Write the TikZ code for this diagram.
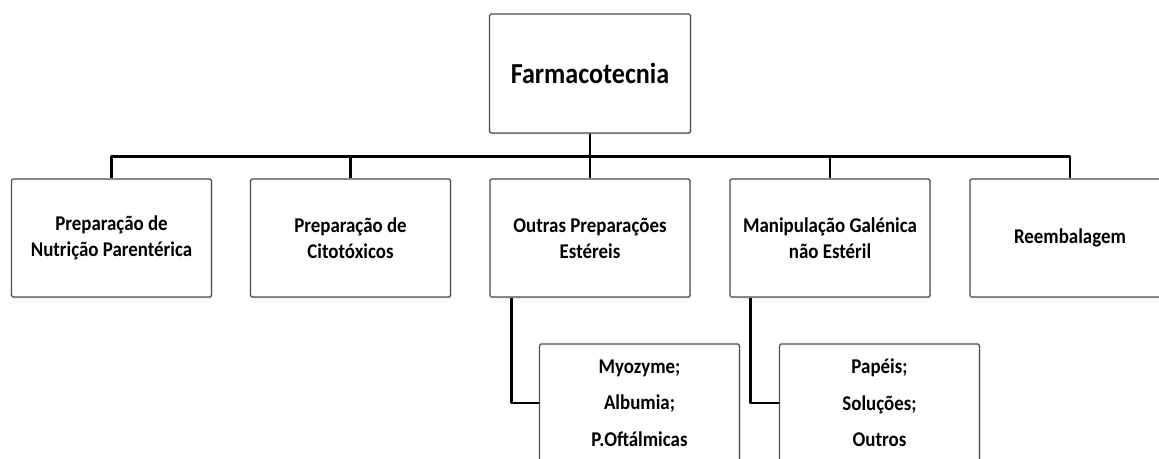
\documentclass[tikz,border=0pt]{standalone}
\usepackage{fontspec}
\setmainfont{Carlito}[FakeStretch=0.9]
\usetikzlibrary{shadows,calc}

\begin{document}
\begin{tikzpicture}[
    x=1pt, y=-1pt,
    obox/.style={rectangle, draw=black!70, line width=1.2pt, rounded corners=1.5pt, fill=white, minimum width=200pt, minimum height=118pt, inner sep=0pt, align=center, font=\bfseries\fontsize{21}{26}\selectfont, drop shadow={opacity=0.2, shadow xshift=1pt, shadow yshift=-1.5pt}},
    subbox/.style={obox, font=\bfseries\fontsize{21}{36.5}\selectfont},
    link/.style={line width=2.6pt, line join=round}
]
\useasboundingbox (0,0) rectangle (1159,458);

\node[obox, minimum width=201pt, minimum height=119pt, font=\bfseries\fontsize{29}{34}\selectfont] (root) at (590, 73.5) {Farmacotecnia};

\node[obox] (nutri) at (111.5, 238) {Preparação de\\Nutrição Parentérica};
\node[obox] (cito) at (350.5, 238) {Preparação de\\Citotóxicos};
\node[obox] (estereis) at (590, 238) {Outras Preparações\\Estéreis};
\node[obox] (galenica) at (830, 238) {Manipulação Galénica\\não Estéril};
\node[obox] (reemb) at (1070, 238) {Reembalagem};

\node[subbox] (estlist) at (639.5, 403) {Myozyme;\\Albumia;\\P.Oftálmicas};
\node[subbox] (gallist) at (879.5, 403) {Papéis;\\Soluções;\\Outros};

\draw[link] (root.south) -- ++(0,23) -| (nutri.north);
\draw[link] (root.south) -- ++(0,23) -| (cito.north);
\draw[link] (root.south) -- (estereis.north);
\draw[link] (root.south) -- ++(0,23) -| (galenica.north);
\draw[link] (root.south) -- ++(0,23) -| (reemb.north);

\draw[link] ($(estereis.south west)+(22,0)$) |- (estlist.west);
\draw[link] ($(galenica.south west)+(21,0)$) |- (gallist.west);
\end{tikzpicture}
\end{document}
